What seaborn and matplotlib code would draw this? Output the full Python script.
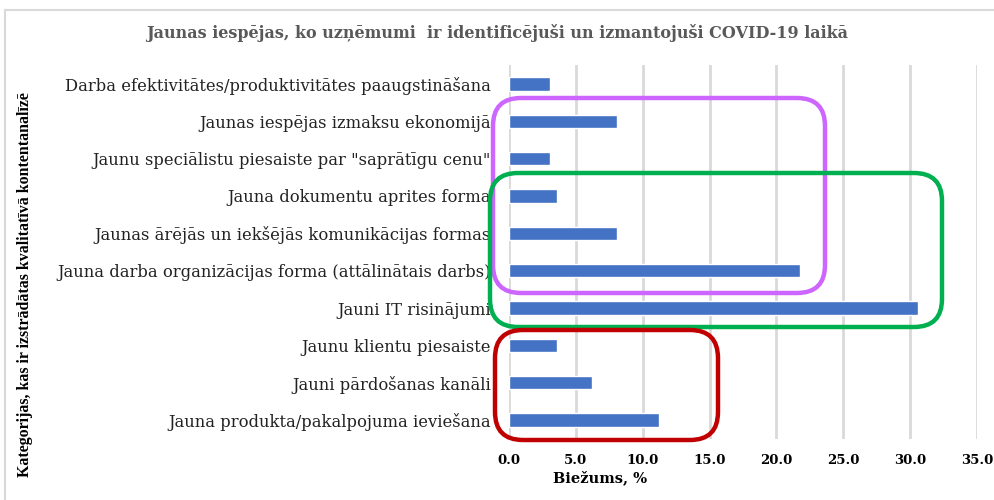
import matplotlib
matplotlib.use("Agg")
import matplotlib.pyplot as plt
import seaborn as sns
import pandas as pd
from matplotlib.patches import FancyBboxPatch, Rectangle
from matplotlib.transforms import IdentityTransform

categories = [
    "Darba efektivitātes/produktivitātes paaugstināšana",
    "Jaunas iespējas izmaksu ekonomijā",
    "Jaunu speciālistu piesaiste par \"saprātīgu cenu\"",
    "Jauna dokumentu aprites forma",
    "Jaunas ārējās un iekšējās komunikācijas formas",
    "Jauna darba organizācijas forma (attālinātais darbs)",
    "Jauni IT risinājumi",
    "Jaunu klientu piesaiste",
    "Jauni pārdošanas kanāli",
    "Jauna produkta/pakalpojuma ieviešana",
]
values = [3.1, 8.1, 3.1, 3.6, 8.1, 21.8, 30.6, 3.6, 6.2, 11.2]
x_ticks = [0, 5, 10, 15, 20, 25, 30, 35]
x_tick_labels = ["0.0", "5.0", "10.0", "15.0", "20.0", "25.0", "30.0", "35.0"]

title = "Jaunas iespējas, ko uzņēmumi  ir identificējuši un izmantojuši COVID-19 laikā"
x_label = "Biežums, %"
y_label = "Kategorijas, kas ir izstrādātas kvalitatīvā kontentanalīzē"

sns.set_theme(style="white")
plt.rcParams["font.family"] = ["DejaVu Serif"]

W, H = 994, 500
fig = plt.figure(figsize=(W / 100, H / 100), dpi=100)
fig.patch.set_facecolor("white")

def fx(px):
    return px / W

def fy(py):
    return 1 - py / H

ax = fig.add_axes([fx(509), fy(438.7), fx(977) - fx(509), fy(65.3) - fy(438.7)])

df = pd.DataFrame({"cat": categories, "val": values})
sns.barplot(data=df, x="val", y="cat", orient="h", color="#4472C4",
            width=0.36, saturation=1, ax=ax, zorder=3)

ax.set_xlim(0, 35)
ax.set_xticks(x_ticks)
ax.set_xticklabels(x_tick_labels, fontsize=9.5, fontweight="bold", color="#000000")
ax.tick_params(axis="x", length=0, pad=11)
ax.tick_params(axis="y", length=0, pad=13, labelsize=11.8, labelcolor="#222222")
ax.set_xlabel("")
ax.set_ylabel("")
for s in ax.spines.values():
    s.set_visible(False)
ax.grid(axis="x", color="#D9D9D9", linewidth=2, zorder=0)
ax.grid(axis="y", visible=False)
ax.set_axisbelow(True)

# Chart frame
fig.patches.append(Rectangle((5, -10), 1100, H - 10 + 10, transform=IdentityTransform(),
                             fill=False, edgecolor="#D9D9D9", linewidth=1.5))

fig.text(fx(497), fy(33), title, ha="center", va="center", fontsize=11.5,
         fontweight="bold", color="#595959")
fig.text(fx(600), fy(478), x_label, ha="center", va="center", fontsize=10.5,
         fontweight="bold", color="#000000")
fig.text(fx(25), fy(285), y_label, ha="center", va="center", rotation=90,
         fontsize=11.4, fontweight="bold", color="#000000",
         family=["Liberation Serif", "DejaVu Serif"])

# Annotation frames (rounded rectangles), pixel coordinates (top-left origin)
def rbox(x0, y0, x1, y1, color):
    p = FancyBboxPatch((x0, H - y1), x1 - x0, y1 - y0,
                       boxstyle="round,pad=0,rounding_size=28",
                       transform=IdentityTransform(), fill=False,
                       edgecolor=color, linewidth=3.2, zorder=5)
    fig.patches.append(p)

rbox(493, 98, 825, 293, "#CC66FF")
rbox(490, 173, 942, 327, "#00B050")
rbox(495, 330, 718, 440, "#C00000")

fig.savefig("out.png", dpi=100, facecolor="white")
